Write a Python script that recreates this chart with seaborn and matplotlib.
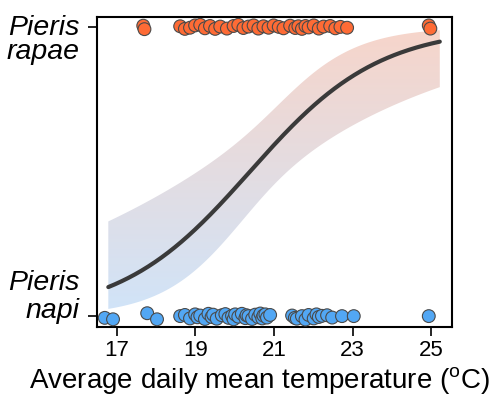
import numpy as np
import pandas as pd
import matplotlib
matplotlib.use("Agg")
import matplotlib.pyplot as plt
import matplotlib.transforms as mtransforms
from matplotlib.colors import LinearSegmentedColormap
import seaborn as sns

# ---- data ----
species_labels = ["Pieris\nnapi", "Pieris\nrapae"]
species_values = [0, 1]
xticks = [17, 19, 21, 23, 25]

napi_temp = [16.69, 16.90, 17.77, 18.02, 18.61, 18.73, 18.86, 18.99, 19.05, 19.12, 19.24,
             19.33, 19.41, 19.45, 19.54, 19.67, 19.76, 19.84, 19.93, 19.97, 20.01, 20.09,
             20.18, 20.27, 20.30, 20.35, 20.44, 20.52, 20.60, 20.65, 20.70, 20.73, 20.78,
             20.82, 20.90, 21.46, 21.53, 21.58, 21.71, 21.80, 21.88, 22.01, 22.08, 22.14,
             22.22, 22.35, 22.48, 22.73, 23.03, 24.94]
napi_y = [-0.006, -0.011, 0.010, -0.011, 0.000, 0.004, -0.008, 0.006, -0.004, 0.002, -0.010,
          0.008, -0.003, 0.005, -0.009, 0.003, 0.007, -0.006, 0.001, -0.011, 0.006, -0.002,
          0.008, -0.007, 0.003, 0.000, -0.010, 0.005, -0.004, 0.009, -0.008, 0.002, 0.006,
          -0.005, 0.004, 0.002, -0.006, -0.009, 0.000, -0.012, 0.004, -0.008, 0.006, -0.003,
          0.001, 0.003, -0.005, 0.000, 0.000, 0.000]

rapae_temp = [17.67, 17.70, 18.61, 18.73, 18.86, 18.99, 19.12, 19.24, 19.37, 19.50, 19.63,
              19.80, 19.97, 20.09, 20.22, 20.35, 20.48, 20.60, 20.73, 20.86, 20.99, 21.12,
              21.24, 21.41, 21.54, 21.62, 21.71, 21.80, 21.88, 22.01, 22.14, 22.26, 22.43,
              22.56, 22.69, 22.86, 24.94, 24.98]
rapae_y = [1.005, 0.993, 1.003, 0.994, 0.998, 1.006, 1.008, 0.996, 1.004, 0.994, 1.002,
           0.995, 1.004, 1.008, 0.997, 1.002, 1.006, 0.995, 1.003, 0.998, 1.006, 1.001,
           0.996, 1.005, 0.997, 1.003, 0.994, 1.004, 0.999, 1.006, 0.995, 1.002, 1.004,
           0.996, 1.001, 0.998, 1.006, 0.995]

fit_intercept_temp = 20.385   # temperature where p = 0.5
fit_slope = 0.608             # per degree, logit scale
band_min_halfwidth = 0.55     # logit half-width at narrowest point
band_center_temp = 20.8
band_growth = 0.34
fit_range = [16.78, 25.22]

# ---- styling ----
sns.set_theme(style="white")
plt.rcParams["font.family"] = ["Liberation Sans", "DejaVu Sans"]
plt.rcParams["mathtext.fontset"] = "custom"
plt.rcParams["mathtext.rm"] = "Liberation Sans"
plt.rcParams["text.color"] = "black"
plt.rcParams["axes.labelcolor"] = "black"
plt.rcParams["xtick.color"] = "black"
plt.rcParams["ytick.color"] = "black"

fig = plt.figure(figsize=(4.92, 3.96), dpi=100)
ax = fig.add_axes([0.197, 0.174, 0.722, 0.783])

# curve & band
xg = np.linspace(fit_range[0], fit_range[1], 300)
logit = fit_slope * (xg - fit_intercept_temp)
half = np.sqrt(band_min_halfwidth**2 + (band_growth * (xg - band_center_temp))**2)
p = 1 / (1 + np.exp(-logit))
lo = 1 / (1 + np.exp(-(logit - half)))
hi = 1 / (1 + np.exp(-(logit + half)))

poly = ax.fill_between(xg, lo, hi, facecolor="none", edgecolor="none")
cmap = LinearSegmentedColormap.from_list("bg", [(0.0, "#d0e4f9"), (1.0, "#f7d5ca")])
grad = np.linspace(0, 1, 256).reshape(-1, 1)
im = ax.imshow(grad, extent=[fit_range[0], fit_range[1], 0, 1], origin="lower",
               aspect="auto", cmap=cmap, zorder=1)
path = poly.get_paths()[0]
im.set_clip_path(path, transform=ax.transData)

curve_df = pd.DataFrame({"temp": xg, "p": p})
sns.lineplot(data=curve_df, x="temp", y="p", color="#3a3a3a", linewidth=3.0, ax=ax, zorder=3)

pts = pd.DataFrame({
    "temp": napi_temp + rapae_temp,
    "y": napi_y + rapae_y,
    "species": ["napi"] * len(napi_temp) + ["rapae"] * len(rapae_temp),
})
sns.scatterplot(data=pts, x="temp", y="y", hue="species",
                palette={"napi": "#52a7f4", "rapae": "#fe6b35"},
                s=85, edgecolor="#4a4a4a", linewidth=0.8, legend=False, ax=ax, zorder=4)

ax.set_xlim(16.49, 25.535)
ax.set_ylim(-0.038, 1.035)
ax.set_xticks(xticks)
ax.set_xticklabels([str(t) for t in xticks], fontsize=16)
ax.set_yticks(species_values)
ax.set_yticklabels(["", ""])

# species labels (two-line, right aligned left of the axis)
trans = mtransforms.blended_transform_factory(ax.transAxes, ax.transData)
px = 1 / 100
# (vertical alignment, shift in inches, line spacing)
label_layout = {0: ("bottom", -8 * px, 1.1), 1: ("baseline", -31.5 * px, 0.86)}
for val, text in zip(species_values, species_labels):
    va, off, ls = label_layout[val]
    t = mtransforms.offset_copy(trans, fig=fig, x=0, y=off, units="inches")
    ax.text(-0.048, val, text, transform=t, ha="right", va=va, multialignment="right",
            linespacing=ls, fontsize=20.5, fontstyle="italic", clip_on=False)

ax.tick_params(axis="both", which="major", direction="out", length=6.5, width=1.2,
               color="black", bottom=True, left=True)
ax.tick_params(axis="x", pad=3)
ax.tick_params(axis="y", pad=5)
for s in ax.spines.values():
    s.set_color("black")
    s.set_linewidth(1.5)

ax.set_xlabel(r"Average daily mean temperature ($^{\mathrm{o}}$C)", fontsize=20)
ax.xaxis.set_label_coords(0.459, -0.122)
ax.set_ylabel("")

fig.savefig("out.png", dpi=100)
